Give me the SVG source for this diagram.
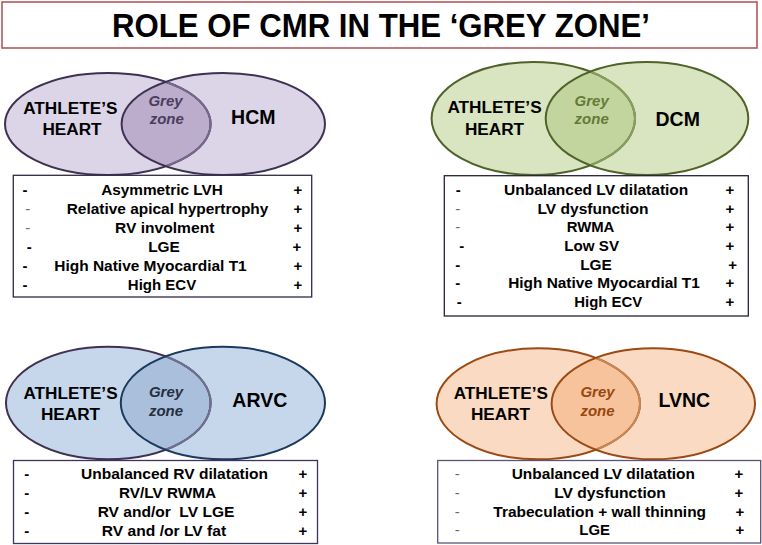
<svg xmlns="http://www.w3.org/2000/svg" width="762" height="545" viewBox="0 0 762 545">
<style>
.t{font-family:"Liberation Sans",Arial,sans-serif;font-weight:bold;text-anchor:middle;fill:#000}
.ttl{font-size:33px}
.ah{font-size:17.2px}
.dz{font-size:19.5px}
.gz{font-size:15px;font-style:italic}
.row{font-size:15.3px}
.sg{font-size:15px}
.thin{font-weight:normal;fill:#6b6b6b}
.tb{fill:#fff;stroke-width:1.3}
.es{fill:none;stroke-width:2}
</style>
<defs>
<clipPath id="cHL"><ellipse cx="107.8" cy="124" rx="102.8" ry="51"/></clipPath>
<clipPath id="cHR"><ellipse cx="223.3" cy="124" rx="101.7" ry="51"/></clipPath>
<clipPath id="cDL"><ellipse cx="533.3" cy="118.5" rx="101.7" ry="56.5"/></clipPath>
<clipPath id="cDR"><ellipse cx="647" cy="118.5" rx="101.3" ry="56.5"/></clipPath>
<clipPath id="cAL"><ellipse cx="108.3" cy="403" rx="102.3" ry="56.3"/></clipPath>
<clipPath id="cAR"><ellipse cx="222.9" cy="403" rx="102.1" ry="56.3"/></clipPath>
<clipPath id="cLL"><ellipse cx="538.3" cy="403.8" rx="101.7" ry="55.5"/></clipPath>
<clipPath id="cLR"><ellipse cx="653.3" cy="403.8" rx="101.7" ry="55.5"/></clipPath>
</defs>

<g id="title">
<rect x="2" y="2" width="755" height="46" fill="#fff" stroke="#b5585a" stroke-width="1.6"/>
<text class="t ttl" x="381" y="37" textLength="538" lengthAdjust="spacingAndGlyphs">ROLE OF CMR IN THE ‘GREY ZONE’</text>
</g>

<g id="venn-hcm">
<ellipse cx="107.8" cy="124" rx="102.8" ry="51" fill="#dcd4e7"/>
<ellipse cx="223.3" cy="124" rx="101.7" ry="51" fill="#dcd4e7"/>
<ellipse cx="223.3" cy="124" rx="101.7" ry="51" fill="#bbadcb" clip-path="url(#cHL)"/>
<ellipse class="es" cx="107.8" cy="124" rx="102.8" ry="51" stroke="#3f3151"/>
<ellipse class="es" cx="107.8" cy="124" rx="102.8" ry="51" stroke="#77698c" clip-path="url(#cHR)"/>
<ellipse class="es" cx="223.3" cy="124" rx="101.7" ry="51" stroke="#3f3151"/>
<text class="t ah" x="70.3" y="114">ATHLETE’S</text>
<text class="t ah" x="72" y="135">HEART</text>
<text class="t gz" x="165.5" y="106" fill="#4b3c60" style="fill:#4b3c60">Grey</text>
<text class="t gz" x="166.8" y="124" style="fill:#4b3c60">zone</text>
<text class="t dz" x="253.3" y="124.3">HCM</text>
</g>

<g id="table-hcm">
<rect class="tb" x="13.3" y="175.3" width="298.4" height="121.7" stroke="#2f2a45"/>
<text class="t sg" x="25" y="195">-</text>
<text class="t sg thin" x="27.7" y="214">-</text>
<text class="t sg thin" x="27.7" y="233">-</text>
<text class="t sg" x="29.3" y="252">-</text>
<text class="t sg" x="25" y="271">-</text>
<text class="t sg" x="25" y="290">-</text>
<text class="t row" x="162" y="195" textLength="121.7" lengthAdjust="spacingAndGlyphs">Asymmetric LVH</text>
<text class="t row" x="167.5" y="214" textLength="201.7" lengthAdjust="spacingAndGlyphs">Relative apical hypertrophy</text>
<text class="t row" x="164.7" y="233" textLength="99.3" lengthAdjust="spacingAndGlyphs">RV involment</text>
<text class="t row" x="164" y="252" textLength="31.7" lengthAdjust="spacingAndGlyphs">LGE</text>
<text class="t row" x="150.5" y="271" textLength="192.4" lengthAdjust="spacingAndGlyphs">High Native Myocardial T1</text>
<text class="t row" x="162" y="290" textLength="68.3" lengthAdjust="spacingAndGlyphs">High ECV</text>
<text class="t sg" x="298" y="195">+</text>
<text class="t sg" x="298" y="214">+</text>
<text class="t sg" x="298" y="233">+</text>
<text class="t sg" x="297" y="252">+</text>
<text class="t sg" x="298" y="271">+</text>
<text class="t sg" x="298" y="290">+</text>
</g>

<g id="venn-dcm">
<ellipse cx="533.3" cy="118.5" rx="101.7" ry="56.5" fill="#d9e4c0"/>
<ellipse cx="647" cy="118.5" rx="101.3" ry="56.5" fill="#d9e4c0"/>
<ellipse cx="647" cy="118.5" rx="101.3" ry="56.5" fill="#c3d59e" clip-path="url(#cDL)"/>
<ellipse class="es" cx="533.3" cy="118.5" rx="101.7" ry="56.5" stroke="#4f6228"/>
<ellipse class="es" cx="533.3" cy="118.5" rx="101.7" ry="56.5" stroke="#8a9e60" clip-path="url(#cDR)"/>
<ellipse class="es" cx="647" cy="118.5" rx="101.3" ry="56.5" stroke="#4f6228"/>
<text class="t ah" x="494.5" y="113.3">ATHLETE’S</text>
<text class="t ah" x="494.5" y="135">HEART</text>
<text class="t gz" x="591.7" y="106" style="fill:#657a38">Grey</text>
<text class="t gz" x="591.7" y="124" style="fill:#657a38">zone</text>
<text class="t dz" x="677.7" y="125.7">DCM</text>
</g>

<g id="table-dcm">
<rect class="tb" x="444.3" y="175.7" width="304" height="140.3" stroke="#25223a"/>
<text class="t sg" x="458.3" y="195">-</text>
<text class="t sg thin" x="457.7" y="213.7">-</text>
<text class="t sg thin" x="457.7" y="232.3">-</text>
<text class="t sg" x="461.7" y="251">-</text>
<text class="t sg" x="457.7" y="269.7">-</text>
<text class="t sg" x="457.7" y="288.3">-</text>
<text class="t sg" x="459.3" y="307">-</text>
<text class="t row" x="596.2" y="195" textLength="184.3" lengthAdjust="spacingAndGlyphs">Unbalanced LV dilatation</text>
<text class="t row" x="593" y="213.7" textLength="111" lengthAdjust="spacingAndGlyphs">LV dysfunction</text>
<text class="t row" x="590.5" y="232.3" textLength="47.7" lengthAdjust="spacingAndGlyphs">RWMA</text>
<text class="t row" x="591.7" y="251" textLength="54.7" lengthAdjust="spacingAndGlyphs">Low SV</text>
<text class="t row" x="596" y="269.7" textLength="31.7" lengthAdjust="spacingAndGlyphs">LGE</text>
<text class="t row" x="604" y="288.3" textLength="191.7" lengthAdjust="spacingAndGlyphs">High Native Myocardial T1</text>
<text class="t row" x="608.3" y="307" textLength="68" lengthAdjust="spacingAndGlyphs">High ECV</text>
<text class="t sg" x="730" y="195">+</text>
<text class="t sg" x="730" y="213.7">+</text>
<text class="t sg" x="730" y="232.3">+</text>
<text class="t sg" x="730" y="251">+</text>
<text class="t sg" x="732.7" y="269.7">+</text>
<text class="t sg" x="730" y="288.3">+</text>
<text class="t sg" x="730" y="307">+</text>
</g>

<g id="venn-arvc">
<ellipse cx="108.3" cy="403" rx="102.3" ry="56.3" fill="#c7d7eb"/>
<ellipse cx="222.9" cy="403" rx="102.1" ry="56.3" fill="#c7d7eb"/>
<ellipse cx="222.9" cy="403" rx="102.1" ry="56.3" fill="#a9bfdc" clip-path="url(#cAL)"/>
<ellipse class="es" cx="108.3" cy="403" rx="102.3" ry="56.3" stroke="#3f3151"/>
<ellipse class="es" cx="108.3" cy="403" rx="102.3" ry="56.3" stroke="#6f7190" clip-path="url(#cAR)"/>
<ellipse class="es" cx="222.9" cy="403" rx="102.1" ry="56.3" stroke="#1b3a5c"/>
<text class="t ah" x="70.5" y="399">ATHLETE’S</text>
<text class="t ah" x="70.5" y="420">HEART</text>
<text class="t gz" x="166" y="397" style="fill:#26303f">Grey</text>
<text class="t gz" x="166" y="415.7" style="fill:#26303f">zone</text>
<text class="t dz" x="259.8" y="407.3">ARVC</text>
</g>

<g id="table-arvc">
<rect class="tb" x="13.5" y="460.5" width="304" height="83" stroke="#3f3160"/>
<text class="t sg" x="26.7" y="479">-</text>
<text class="t sg" x="26.7" y="498">-</text>
<text class="t sg" x="26.7" y="517">-</text>
<text class="t sg" x="26.7" y="535.5">-</text>
<text class="t row" x="174.5" y="479" textLength="187" lengthAdjust="spacingAndGlyphs">Unbalanced RV dilatation</text>
<text class="t row" x="167.5" y="498" textLength="97" lengthAdjust="spacingAndGlyphs">RV/LV RWMA</text>
<text class="t row" x="166" y="517" textLength="136.7" lengthAdjust="spacingAndGlyphs" xml:space="preserve">RV and/or  LV LGE</text>
<text class="t row" x="164" y="535.5" textLength="124.3" lengthAdjust="spacingAndGlyphs">RV and /or LV fat</text>
<text class="t sg" x="303" y="479">+</text>
<text class="t sg" x="303" y="498">+</text>
<text class="t sg" x="303" y="517">+</text>
<text class="t sg" x="303" y="535.5">+</text>
</g>

<g id="venn-lvnc">
<ellipse cx="538.3" cy="403.8" rx="101.7" ry="55.5" fill="#fbdac3"/>
<ellipse cx="653.3" cy="403.8" rx="101.7" ry="55.5" fill="#fbdac3"/>
<ellipse cx="653.3" cy="403.8" rx="101.7" ry="55.5" fill="#f6c39c" clip-path="url(#cLL)"/>
<ellipse class="es" cx="538.3" cy="403.8" rx="101.7" ry="55.5" stroke="#9a4a12"/>
<ellipse class="es" cx="538.3" cy="403.8" rx="101.7" ry="55.5" stroke="#c68857" clip-path="url(#cLR)"/>
<ellipse class="es" cx="653.3" cy="403.8" rx="101.7" ry="55.5" stroke="#9a4a12"/>
<text class="t ah" x="500.8" y="399">ATHLETE’S</text>
<text class="t ah" x="500.5" y="420">HEART</text>
<text class="t gz" x="597.5" y="397.3" style="fill:#98480f">Grey</text>
<text class="t gz" x="597.5" y="415.7" style="fill:#98480f">zone</text>
<text class="t dz" x="684.3" y="407.3">LVNC</text>
</g>

<g id="table-lvnc">
<rect class="tb" x="437.7" y="460.5" width="323" height="82.5" stroke="#5e5276"/>
<text class="t sg thin" x="457.3" y="479.3">-</text>
<text class="t sg thin" x="457.3" y="497.7">-</text>
<text class="t sg thin" x="457.3" y="516.7">-</text>
<text class="t sg thin" x="457.3" y="535">-</text>
<text class="t row" x="603.3" y="479.3" textLength="183.3" lengthAdjust="spacingAndGlyphs">Unbalanced LV dilatation</text>
<text class="t row" x="610" y="497.7" textLength="111.7" lengthAdjust="spacingAndGlyphs">LV dysfunction</text>
<text class="t row" x="599.7" y="516.7" textLength="212.7" lengthAdjust="spacingAndGlyphs">Trabeculation + wall thinning</text>
<text class="t row" x="594.7" y="535" textLength="30.7" lengthAdjust="spacingAndGlyphs">LGE</text>
<text class="t sg" x="739" y="479.3">+</text>
<text class="t sg" x="739" y="497.7">+</text>
<text class="t sg" x="740" y="516.7">+</text>
<text class="t sg" x="740" y="535">+</text>
</g>
</svg>
